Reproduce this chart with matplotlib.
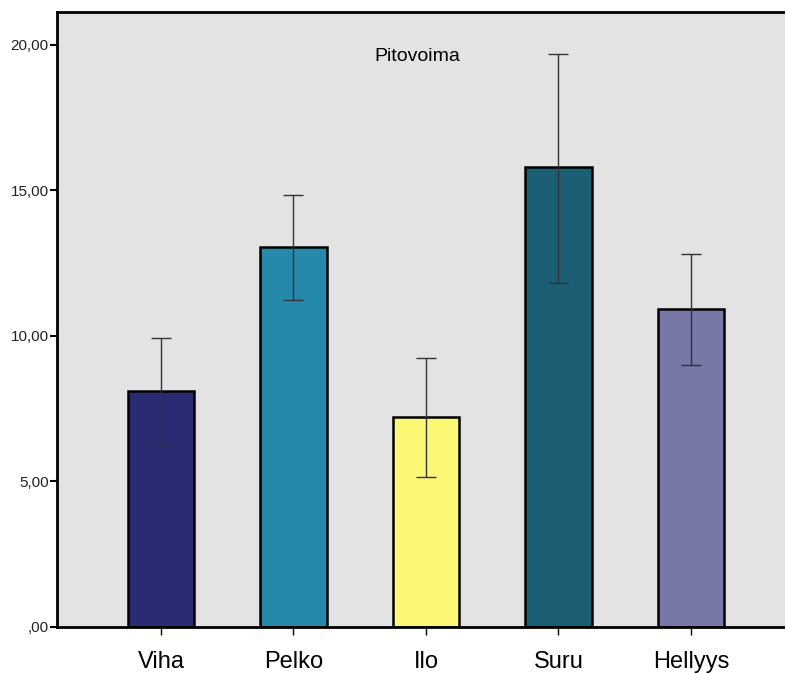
import numpy as np
import matplotlib
matplotlib.use('Agg')
import matplotlib.pyplot as plt

plt.rcParams['font.family'] = ['Liberation Sans', 'DejaVu Sans']

# Data
categories = ['Viha', 'Pelko', 'Ilo', 'Suru', 'Hellyys']
means = [8.11, 13.06, 7.22, 15.81, 10.93]
err_low = [6.25, 11.22, 5.15, 11.82, 8.99]
err_high = [9.93, 14.85, 9.25, 19.70, 12.82]
colors = ['#282A72', '#2489AB', '#FAF874', '#1C5E74', '#7878A8']
yticks = [0, 5, 10, 15, 20]
ytick_labels = [',00', '5,00', '10,00', '15,00', '20,00']

fig = plt.figure(figsize=(7.85, 6.73), dpi=100)
ax = fig.add_axes([57 / 785, 46 / 673, 728 / 785, 615 / 673])
ax.set_facecolor('#E3E3E3')

x = np.arange(len(categories))
ax.bar(x, means, width=0.5, color=colors, edgecolor='black', linewidth=1.8, zorder=2)

means_arr = np.array(means)
yerr = [means_arr - np.array(err_low), np.array(err_high) - means_arr]
ax.errorbar(x, means, yerr=yerr, fmt='none', ecolor='#333333', elinewidth=1.0,
            capsize=7, capthick=1.0, zorder=3)

ax.set_xlim(-0.785, 4.71)
ax.set_ylim(0, 21.13)
ax.set_xticks(x)
ax.set_xticklabels(categories, fontsize=17)
ax.set_yticks(yticks)
ax.set_yticklabels(ytick_labels, fontsize=11, color='#222222')
ax.tick_params(axis='x', length=6, width=1, pad=11)
ax.tick_params(axis='y', length=5, width=1.5, pad=1)

for side in ['left', 'top', 'bottom']:
    ax.spines[side].set_linewidth(2)
    ax.spines[side].set_color('black')
ax.spines['right'].set_visible(False)

ax.text(0.495, 0.927, 'Pitovoima', transform=ax.transAxes, ha='center', va='center',
        fontsize=14)

fig.savefig('out.png', dpi=100)
